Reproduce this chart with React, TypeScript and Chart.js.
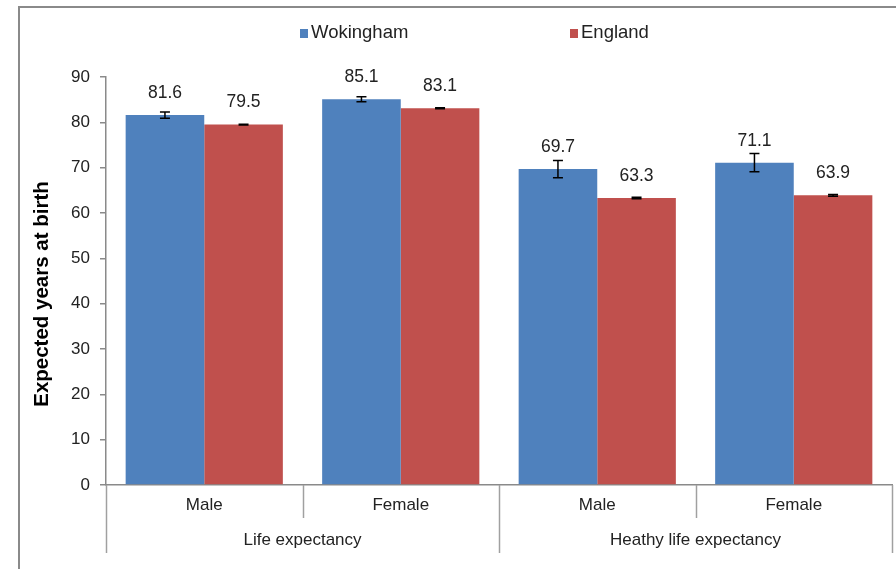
import React, { useEffect, useRef } from "react";
import { Chart, registerables } from "chart.js";

Chart.register(...registerables);

const subCategories = ["Male", "Female", "Male", "Female"];
const groupLabels = ["Life expectancy", "Heathy life expectancy"];
const groupSizes = [2, 2];
const seriesNames = ["Wokingham", "England"];
const seriesColors = ["#4F81BD", "#C0504D"];
const wokingham = [81.6, 85.1, 69.7, 71.1];
const england = [79.5, 83.1, 63.3, 63.9];
const wokinghamErr = [0.7, 0.55, 1.9, 2.0];
const englandErr = [0.1, 0.1, 0.15, 0.2];
const yMin = 0;
const yMax = 90;
const yStep = 10;
const yTitle = "Expected years at birth";

const W = 896;
const H = 569;
const FONT = "'Liberation Sans', Arial, sans-serif";

const errors = [wokinghamErr, englandErr];

const customPlugin = {
  id: "custom",
  beforeDraw(chart: any) {
    const ctx = chart.ctx;
    ctx.save();
    ctx.fillStyle = "#ffffff";
    ctx.fillRect(0, 0, W, H);
    ctx.strokeStyle = "#8a8a8a";
    ctx.lineWidth = 2;
    ctx.beginPath();
    ctx.moveTo(19, H + 10);
    ctx.lineTo(19, 7);
    ctx.lineTo(W + 10, 7);
    ctx.stroke();
    ctx.restore();
  },
  afterDatasetsDraw(chart: any) {
    const ctx = chart.ctx;
    const y = chart.scales.y;
    ctx.save();
    chart.data.datasets.forEach((ds: any, di: number) => {
      const meta = chart.getDatasetMeta(di);
      meta.data.forEach((bar: any, j: number) => {
        const v = ds.data[j];
        const e = errors[di][j];
        const yTop = y.getPixelForValue(v + e);
        const yBot = y.getPixelForValue(v - e);
        const x = bar.x;
        ctx.strokeStyle = "#000";
        ctx.lineWidth = 1.5;
        ctx.beginPath();
        ctx.moveTo(x, yTop);
        ctx.lineTo(x, yBot);
        ctx.moveTo(x - 5, yTop);
        ctx.lineTo(x + 5, yTop);
        ctx.moveTo(x - 5, yBot);
        ctx.lineTo(x + 5, yBot);
        ctx.stroke();
        ctx.fillStyle = "#222";
        ctx.font = `17.5px ${FONT}`;
        ctx.textAlign = "center";
        ctx.textBaseline = "middle";
        ctx.fillText(v.toFixed(1), x, bar.y - 22);
      });
    });
    ctx.restore();
  },
  afterDraw(chart: any) {
    const ctx = chart.ctx;
    const xs = chart.scales.x;
    const area = chart.chartArea;
    const n = subCategories.length;
    const w = (xs.right - xs.left) / n;
    const axisY = area.bottom;
    ctx.save();
    ctx.strokeStyle = "#a0a0a0";
    ctx.lineWidth = 1.5;
    const groupBounds: number[] = [0];
    let acc = 0;
    groupSizes.forEach((s) => {
      acc += s;
      groupBounds.push(acc);
    });
    for (let k = 0; k <= n; k++) {
      const bx = Math.round(xs.left + k * w) + 0.5;
      const isGroup = groupBounds.includes(k);
      ctx.beginPath();
      ctx.moveTo(bx, axisY);
      ctx.lineTo(bx, isGroup ? axisY + 68 : axisY + 33);
      ctx.stroke();
    }
    ctx.fillStyle = "#222";
    ctx.font = `17px ${FONT}`;
    ctx.textAlign = "center";
    ctx.textBaseline = "middle";
    for (let g = 0; g < groupLabels.length; g++) {
      const x0 = xs.left + groupBounds[g] * w;
      const x1 = xs.left + groupBounds[g + 1] * w;
      ctx.fillText(groupLabels[g], (x0 + x1) / 2, axisY + 55);
    }
    ctx.save();
    ctx.translate(42, 294);
    ctx.rotate(-Math.PI / 2);
    ctx.font = `bold 20.5px ${FONT}`;
    ctx.fillStyle = "#000";
    ctx.textAlign = "center";
    ctx.textBaseline = "middle";
    ctx.fillText(yTitle, 0, 0);
    ctx.restore();
    const legendX = [300, 570];
    chart.data.datasets.forEach((ds: any, i: number) => {
      ctx.fillStyle = ds.backgroundColor;
      ctx.fillRect(legendX[i], 29, 8, 9);
      ctx.fillStyle = "#222";
      ctx.font = `18.5px ${FONT}`;
      ctx.textAlign = "left";
      ctx.textBaseline = "middle";
      ctx.fillText(ds.label, legendX[i] + 11, 33);
    });
    ctx.restore();
  },
};

export default function App() {
  const ref = useRef<HTMLCanvasElement>(null);
  useEffect(() => {
    document.body.style.margin = "0";
    const chart = new Chart(ref.current!, {
      type: "bar",
      data: {
        labels: subCategories,
        datasets: [
          { label: seriesNames[0], data: wokingham, backgroundColor: seriesColors[0] },
          { label: seriesNames[1], data: england, backgroundColor: seriesColors[1] },
        ],
      },
      options: {
        responsive: false,
        animation: false,
        devicePixelRatio: 1,
        layout: { padding: { top: 77, right: 4, left: 0, bottom: 0 } },
        datasets: { bar: { categoryPercentage: 0.8, barPercentage: 1.0 } },
        plugins: { legend: { display: false }, tooltip: { enabled: false }, title: { display: false } },
        scales: {
          x: {
            grid: { display: false, drawTicks: false },
            border: { display: true, color: "#8a8a8a", width: 1.5 },
            ticks: { font: { size: 17, family: FONT }, color: "#222", padding: 10 },
            afterFit: (s: any) => {
              s.height = H - 485;
            },
          },
          y: {
            min: yMin,
            max: yMax,
            grid: { display: true, drawOnChartArea: false, drawTicks: true, tickLength: 6, color: "#8a8a8a", lineWidth: 1.5 },
            border: { display: true, color: "#8a8a8a", width: 1.5 },
            ticks: { stepSize: yStep, font: { size: 17, family: FONT }, color: "#222", padding: 10 },
            afterFit: (s: any) => {
              s.width = 106;
            },
          },
        },
      },
      plugins: [customPlugin],
    });
    return () => chart.destroy();
  }, []);
  return (
    <div style={{ width: W, height: H, position: "relative", overflow: "hidden" }}>
      <canvas ref={ref} width={W} height={H} style={{ display: "block" }} />
    </div>
  );
}
